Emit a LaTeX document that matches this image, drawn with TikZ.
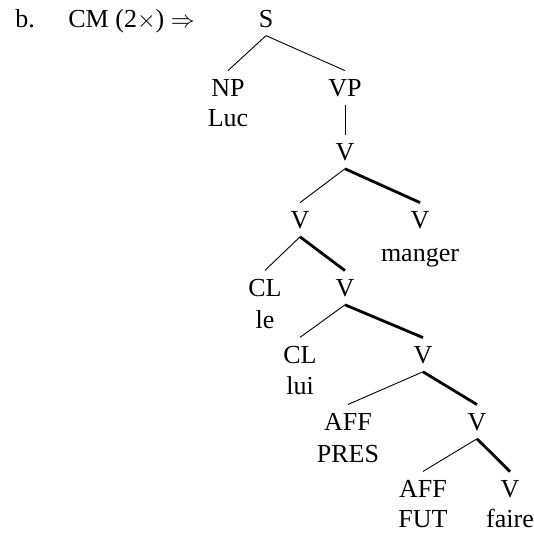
\documentclass[tikz,border=0pt]{standalone}
\usepackage{fontspec}
\setmainfont{Liberation Serif}
\usepackage{amsmath}
\usepackage{tikz}
\tikzset{
	cat node/.style={font=\fontsize{13}{15.5}\selectfont,inner sep=4pt,anchor=base},
	word node/.style={font=\fontsize{13}{15.5}\selectfont,inner sep=0pt,anchor=base},
	label node/.style={font=\fontsize{13}{15.5}\selectfont,inner sep=0pt,anchor=base west},
	thin edge/.style={line width=0.45pt},
	head edge/.style={line width=1.4pt}
}

\begin{document}
\begin{tikzpicture}[x=0.5pt,y=-0.5pt]
	\useasboundingbox (0,0) rectangle (534,538);
	\node [label node] (ex) at (15,27) {b.};
	\node [label node] (rule) at (68,27) {CM (2$\times$) $\Rightarrow$};
	\node [cat node] (s) at (266,27) {S};
	\node [cat node] (np) at (228,96) {NP};
	\node [word node] (luc) at (228,126) {Luc};
	\node [cat node] (vp) at (345,96) {VP};
	\node [cat node] (v1) at (345,160) {V};
	\node [cat node] (v2) at (300,228) {V};
	\node [cat node] (v3) at (420,228) {V};
	\node [word node] (manger) at (420,261) {manger};
	\node [cat node] (cl1) at (265,296) {CL};
	\node [word node] (le) at (265,328) {le};
	\node [cat node] (v4) at (345,296) {V};
	\node [cat node] (cl2) at (300,363) {CL};
	\node [word node] (lui) at (300,394) {lui};
	\node [cat node] (v5) at (423,363) {V};
	\node [cat node] (aff1) at (348,430) {AFF};
	\node [word node] (pres) at (348,462) {PRES};
	\node [cat node] (v6) at (477,430) {V};
	\node [cat node] (aff2) at (423,497) {AFF};
	\node [word node] (fut) at (423,527) {FUT};
	\node [cat node] (v7) at (510,497) {V};
	\node [word node] (faire) at (510,527) {faire};
	\draw [thin edge] (s.south) -- (np.north);
	\draw [thin edge] (s.south) -- (vp.north);
	\draw [thin edge] (vp.south) -- (v1.north);
	\draw [thin edge] (v1.south) -- (v2.north);
	\draw [head edge] (v1.south) -- (v3.north);
	\draw [thin edge] (v2.south) -- (cl1.north);
	\draw [head edge] (v2.south) -- (v4.north);
	\draw [thin edge] (v4.south) -- (cl2.north);
	\draw [head edge] (v4.south) -- (v5.north);
	\draw [thin edge] (v5.south) -- (aff1.north);
	\draw [head edge] (v5.south) -- (v6.north);
	\draw [thin edge] (v6.south) -- (aff2.north);
	\draw [head edge] (v6.south) -- (v7.north);
\end{tikzpicture}
\end{document}
